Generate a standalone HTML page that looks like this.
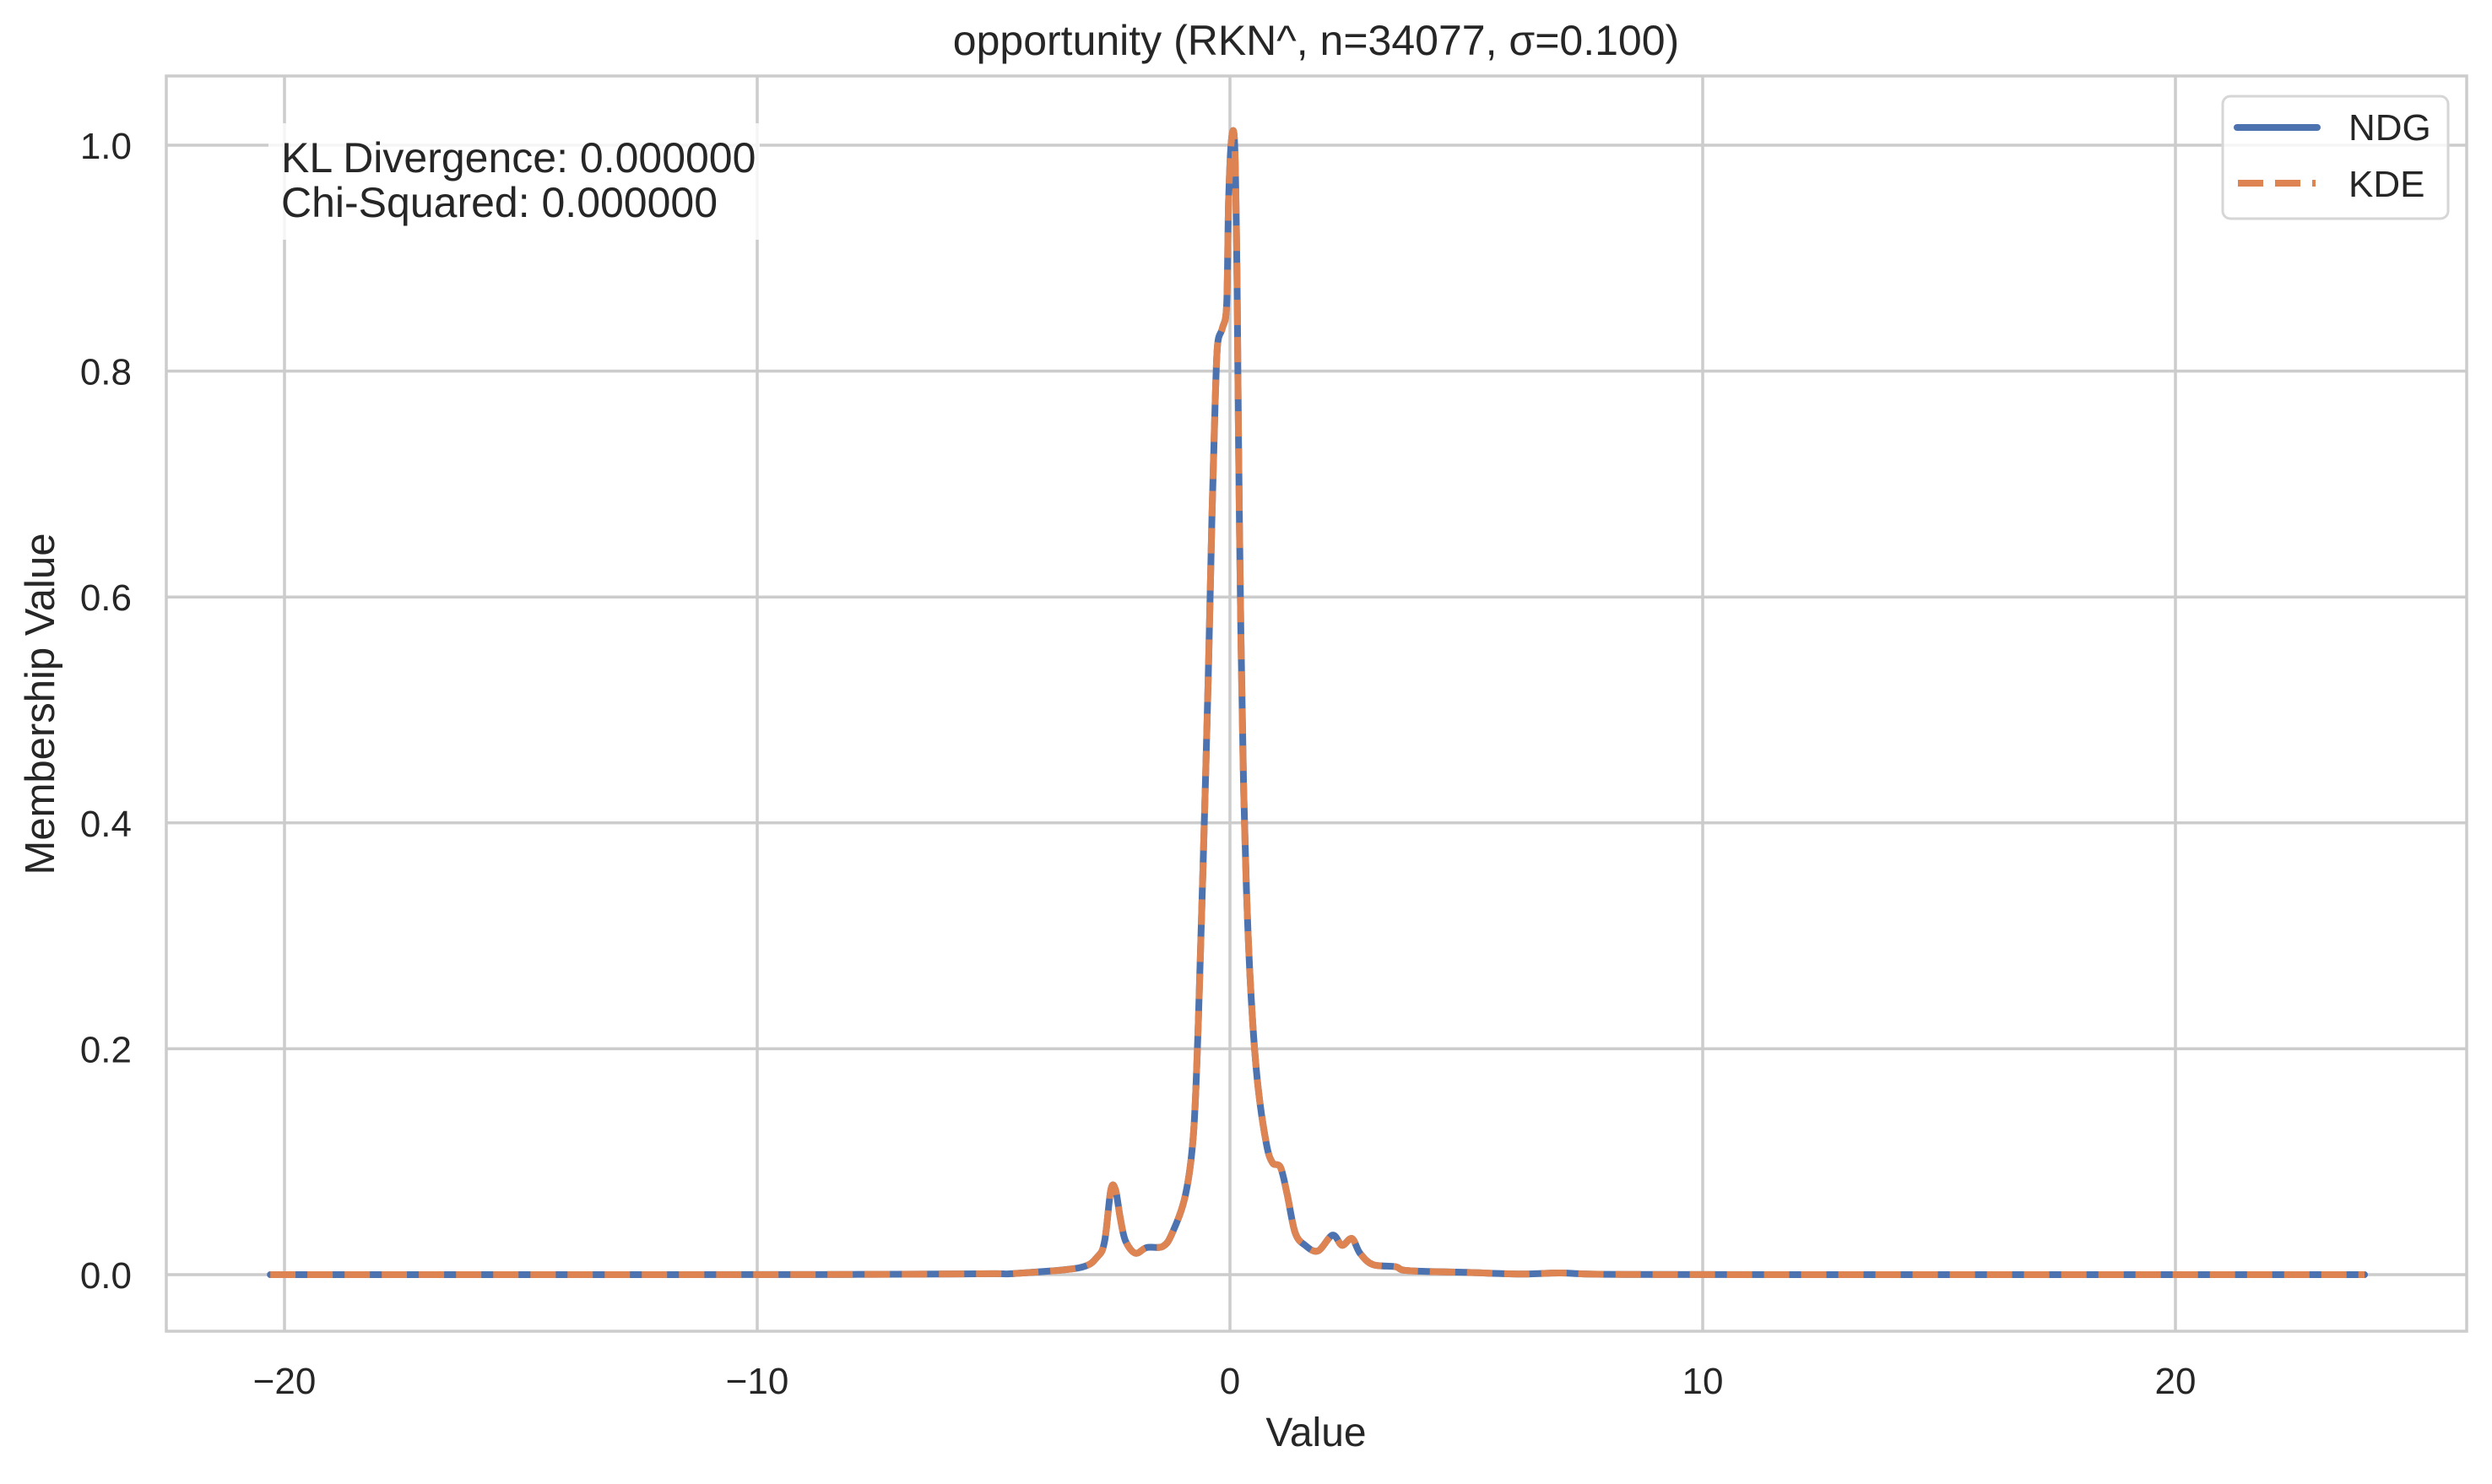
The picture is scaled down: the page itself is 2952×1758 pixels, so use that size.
<!DOCTYPE html>
<html><head><meta charset="utf-8"><style>
body{margin:0;background:#fff}
svg text{font-family:"Liberation Sans",sans-serif;fill:#262626}
</style></head><body>
<svg id="chart" width="2952" height="1753" xmlns="http://www.w3.org/2000/svg">
<rect width="2952" height="1753" fill="#fff"/>
<g id="grid"></g>
<g id="series"></g>
<rect x="197" y="90" width="2725" height="1487" fill="none" stroke="#cccccc" stroke-width="3.5"/>
<g id="ticks"></g>
<text x="1559" y="65" font-size="50" text-anchor="middle">opportunity (RKN^, n=34077, σ=0.100)</text>
<text x="1559" y="1713" font-size="48" text-anchor="middle">Value</text>
<text transform="translate(64,834) rotate(-90)" font-size="49" text-anchor="middle">Membership Value</text>
<rect x="318" y="146" width="582" height="138" fill="#fff" fill-opacity="0.8"/>
<text x="333" y="204" font-size="50">KL Divergence: 0.000000</text>
<text x="333" y="257" font-size="50">Chi-Squared: 0.000000</text>
<g>
<rect x="2633" y="114" width="267" height="145" rx="9" fill="#fff" fill-opacity="0.8" stroke="#d6d6d6" stroke-width="3"/>
<line x1="2650" y1="151" x2="2745" y2="151" stroke="#4c72b0" stroke-width="8" stroke-linecap="round"/>
<text x="2782" y="166" font-size="44">NDG</text>
<line x1="2651" y1="217" x2="2743" y2="217" stroke="#dd8452" stroke-width="8" stroke-dasharray="30,14"/>
<text x="2782" y="233" font-size="44">KDE</text>
</g>
</svg>
<script>
const xTicks=[-20,-10,0,10,20];
const xTickLabels=["−20","−10","0","10","20"];
const yTicks=[0,0.2,0.4,0.6,0.8,1.0];
const yTickLabels=["0.0","0.2","0.4","0.6","0.8","1.0"];
const xs=[-20.3,-12,-8,-5,-4.57,-3.2,-2.8,-2.65,-2.52,-2.42,-2.32,-2.21,-2.0,-1.76,-1.42,-1.22,-0.94,-0.77,-0.67,-0.57,-0.46,-0.38,-0.31,-0.26,-0.16,-0.07,-0.03,0.03,0.10,0.15,0.18,0.23,0.29,0.36,0.46,0.59,0.77,0.90,1.07,1.21,1.38,1.59,1.86,2.17,2.37,2.58,2.75,3.02,3.5,3.77,5.0,6.15,7.0,8.0,12,24];
const ndg=[0,0,0.0002,0.0008,0.001,0.006,0.016,0.03,0.075,0.075,0.05,0.03,0.019,0.024,0.025,0.037,0.071,0.126,0.223,0.361,0.527,0.672,0.776,0.824,0.838,0.859,0.949,1.004,1.0,0.88,0.742,0.569,0.43,0.327,0.237,0.168,0.116,0.099,0.095,0.071,0.037,0.026,0.021,0.035,0.026,0.032,0.019,0.009,0.007,0.0035,0.002,0.0005,0.0015,0.0003,0,0];
const kde=ndg.slice();
const X=v=>1457+v*56, Y=v=>1510-v*1338;
const NS="http://www.w3.org/2000/svg";
const grid=document.getElementById('grid'),ticks=document.getElementById('ticks'),series=document.getElementById('series');
function mk(tag,attrs,parent){const e=document.createElementNS(NS,tag);for(const k in attrs)e.setAttribute(k,attrs[k]);parent.appendChild(e);return e;}
xTicks.forEach((t,i)=>{
 const l=mk('line',{x1:X(t),x2:X(t),y1:90,y2:1577,stroke:'#cccccc','stroke-width':3.5},grid);
 
 
 const tx=mk('text',{x:X(t),y:1651,'font-size':44,'text-anchor':'middle'},ticks);
 tx.textContent=xTickLabels[i];
 
 
});
yTicks.forEach((t,i)=>{
 const l=mk('line',{x1:197,x2:2922,y1:Y(t),y2:Y(t),stroke:'#cccccc','stroke-width':3.5},grid);
 
 
 const tx=mk('text',{x:156,y:Y(t)+16,'font-size':44,'text-anchor':'end'},ticks);
 tx.textContent=yTickLabels[i];
 
 
});
function smoothPath(ys){
 const P=xs.map((x,i)=>[X(x),Y(ys[i])]);
 let d='M'+P[0][0].toFixed(1)+','+P[0][1].toFixed(1);
 for(let i=0;i<P.length-1;i++){
  const p0=P[Math.max(0,i-1)],p1=P[i],p2=P[i+1],p3=P[Math.min(P.length-1,i+2)];
  const t=1/6;
  let c1x=p1[0]+(p2[0]-p0[0])*t,c1y=p1[1]+(p2[1]-p0[1])*t;
  let c2x=p2[0]-(p3[0]-p1[0])*t,c2y=p2[1]-(p3[1]-p1[1])*t;
  c1x=Math.min(Math.max(c1x,p1[0]),p2[0]);c2x=Math.min(Math.max(c2x,p1[0]),p2[0]);
  d+=' C'+c1x.toFixed(1)+','+c1y.toFixed(1)+' '+c2x.toFixed(1)+','+c2y.toFixed(1)+' '+p2[0].toFixed(1)+','+p2[1].toFixed(1);
 }
 return d;
}
const p1=mk('path',{d:smoothPath(ndg),fill:'none',stroke:'#4c72b0','stroke-width':8,'stroke-linejoin':'round','stroke-linecap':'round'},series);


const p2=mk('path',{d:smoothPath(kde),fill:'none',stroke:'#dd8452','stroke-width':8,'stroke-dasharray':'30,14','stroke-linejoin':'round'},series);


</script>
</body></html>
